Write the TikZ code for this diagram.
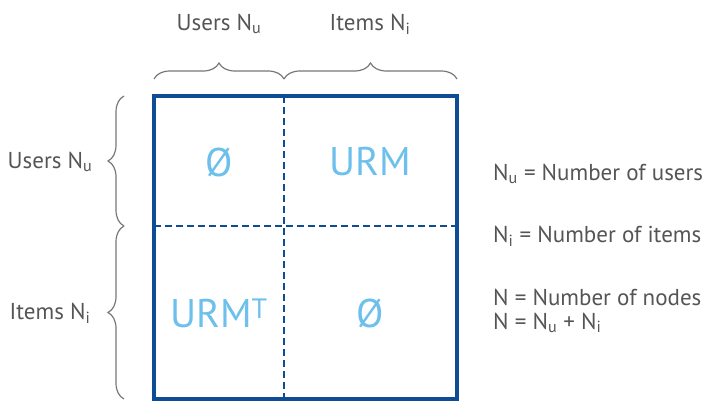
\documentclass[tikz,border=0pt]{standalone}
\usepackage{fontspec}
\setmainfont{PT Sans}
\usetikzlibrary{decorations.pathreplacing}
\definecolor{gridblue}{HTML}{0E4C96}
\definecolor{cellblue}{HTML}{6DC0EC}
\definecolor{labelgray}{HTML}{555555}
\definecolor{bracegray}{HTML}{777777}
\newcommand{\sbs}[1]{\textsubscript{#1}}
\tikzset{
  lbl/.style={text=labelgray,font=\fontsize{23}{27}\selectfont,inner sep=0pt},
  cell/.style={text=cellblue,font=\fontsize{40}{44}\selectfont,inner sep=0pt},
  brc/.style={draw=bracegray,line width=1.2pt,decorate,decoration={brace,amplitude=16pt}}
}
\begin{document}
\begin{tikzpicture}[x=1pt,y=-1pt]
  \useasboundingbox (0,0) rectangle (709,405);
  % matrix
  \coordinate (tl) at (154,96);
  \coordinate (br) at (457,399);
  \coordinate (mt) at (284,96);
  \coordinate (mb) at (284,399);
  \coordinate (ml) at (154,226);
  \coordinate (mr) at (457,226);
  \draw[gridblue,line width=2.5pt,dash pattern=on 7pt off 4pt] (mt) -- (mb);
  \draw[gridblue,line width=2.5pt,dash pattern=on 7pt off 4pt] (ml) -- (mr);
  \draw[gridblue,line width=3.2pt] (tl) rectangle (br);
  \node (uu) at (219,162) [cell] {Ø};
  \node (ui) at (370,162) [cell] {URM};
  \node (iu) at (219,313) [cell] {URM\textsuperscript{T}};
  \node (ii) at (370,313) [cell] {Ø};
  % braces
  \coordinate (b0) at (154,79);
  \coordinate (b1) at (284,79);
  \coordinate (b2) at (457,79);
  \coordinate (l0) at (124,96);
  \coordinate (l1) at (124,226);
  \coordinate (l2) at (124,399);
  \draw[brc] (b0) -- (b1);
  \draw[brc] (b1) -- (b2);
  \draw[brc] (l1) -- (l0);
  \draw[brc] (l2) -- (l1);
  \node (topu) at (219,24) [lbl] {Users N\sbs{u}};
  \node (topi) at (370,24) [lbl] {Items N\sbs{i}};
  \node (leftu) at (50,162) [lbl] {Users N\sbs{u}};
  \node (lefti) at (50,313) [lbl] {Items N\sbs{i}};
  % legend
  \node (nu) at (493,174) [lbl,anchor=west] {N\sbs{u} = Number of users};
  \node (ni) at (493,236) [lbl,anchor=west] {N\sbs{i} = Number of items};
  \node (nn) at (493,297) [lbl,anchor=west] {N = Number of nodes};
  \node (ns) at (493,323) [lbl,anchor=west] {N = N\sbs{u} + N\sbs{i}};
\end{tikzpicture}
\end{document}
